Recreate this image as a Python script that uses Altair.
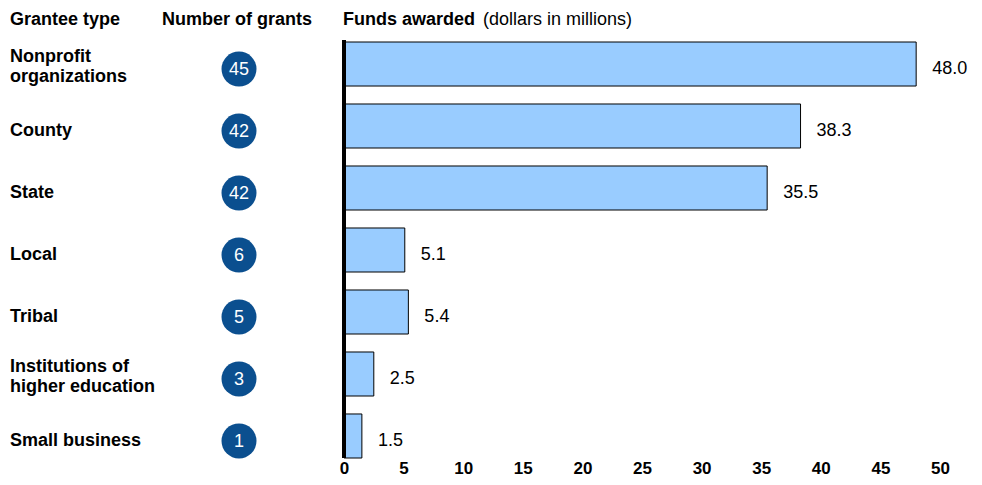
import altair as alt
import pandas as pd

categories = ["Nonprofit\norganizations", "County", "State", "Local", "Tribal",
              "Institutions of\nhigher education", "Small business"]
grants = [45, 42, 42, 6, 5, 3, 1]
funds = [48.0, 38.3, 35.5, 5.1, 5.4, 2.5, 1.5]
x_ticks = [0, 5, 10, 15, 20, 25, 30, 35, 40, 45, 50]
headers_bold = ["Grantee type", "Number of grants", "Funds awarded"]
header_note = "(dollars in millions)"

df = pd.DataFrame({"cat": categories, "grants": grants, "funds": funds})

FONT = "Liberation Sans"
FS = 18
W, H = 596, 416
TDY = 5

yscale = alt.Scale(paddingInner=0.29, paddingOuter=0)
yenc = alt.Y("cat:N", sort=categories, scale=yscale, axis=None)
yenc_off = alt.Y("cat:N", sort=categories, scale=yscale, axis=None,
                 bandPosition=0.5 + 5 / 44)

base = alt.Chart(df)

bars = base.mark_bar(color="#99CCFF", stroke="#000000", strokeWidth=1).encode(
    x=alt.X("funds:Q", scale=alt.Scale(domain=[0, 50], nice=False),
            axis=alt.Axis(values=x_ticks, title=None, grid=False, domain=False,
                          ticks=False, labelFont=FONT, labelFontSize=17,
                          labelFontWeight="bold", labelColor="#000000",
                          labelPadding=2, labelFlush=False)),
    y=yenc,
)

vals = base.mark_text(align="left", baseline="middle", dx=16, dy=TDY, font=FONT,
                      fontSize=FS, color="#000000").encode(
    x="funds:Q", y=yenc, text=alt.Text("funds:Q", format=".1f"))

rule = alt.Chart(pd.DataFrame({"z": [0]})).mark_rule(
    color="#000000", strokeWidth=4).encode(
    x="z:Q", y=alt.value(-2), y2=alt.value(H))

single = base.transform_filter("indexof(datum.cat, '\\n') < 0").mark_text(
    align="left", baseline="middle", font=FONT, fontSize=FS, fontWeight="bold",
    color="#000000", dy=TDY).encode(
    x=alt.value(-334), y=yenc, text="cat:N")

multi = base.transform_filter("indexof(datum.cat, '\\n') >= 0").mark_text(
    align="left", baseline="middle", font=FONT, fontSize=FS, fontWeight="bold",
    color="#000000", lineBreak="\n", lineHeight=20, dy=-7).encode(
    x=alt.value(-334), y=yenc, text="cat:N")

circles = base.mark_point(filled=True, shape="circle", size=1225,
                          color="#0B4F8F", opacity=1).encode(
    x=alt.value(-105), y=yenc_off)

circ_text = base.mark_text(align="center", baseline="middle", font=FONT,
                           fontSize=FS, color="#FFFFFF", dy=TDY + 1).encode(
    x=alt.value(-105), y=yenc, text="grants:Q")

hdr_df = pd.DataFrame({"t": headers_bold, "px": [-334, -182, -1]})
hdr = alt.Chart(hdr_df).mark_text(align="left", baseline="middle", font=FONT,
                                  fontSize=FS, fontWeight="bold",
                                  color="#000000").encode(
    x=alt.X("px:Q", scale=None), y=alt.value(-22), text="t:N")

note = alt.Chart(pd.DataFrame({"t": [header_note]})).mark_text(
    align="left", baseline="middle", font=FONT, fontSize=FS,
    color="#000000").encode(x=alt.value(139), y=alt.value(-22), text="t:N")

chart = alt.layer(bars, vals, rule, single, multi, circles, circ_text, hdr, note).properties(
    width=W, height=H,
    autosize=alt.AutoSizeParams(type="none"),
    padding={"left": 336, "top": 34, "right": 30, "bottom": 19},
).configure_view(stroke=None)

chart.save("out.html", embed_options={"renderer": "svg", "actions": False})
